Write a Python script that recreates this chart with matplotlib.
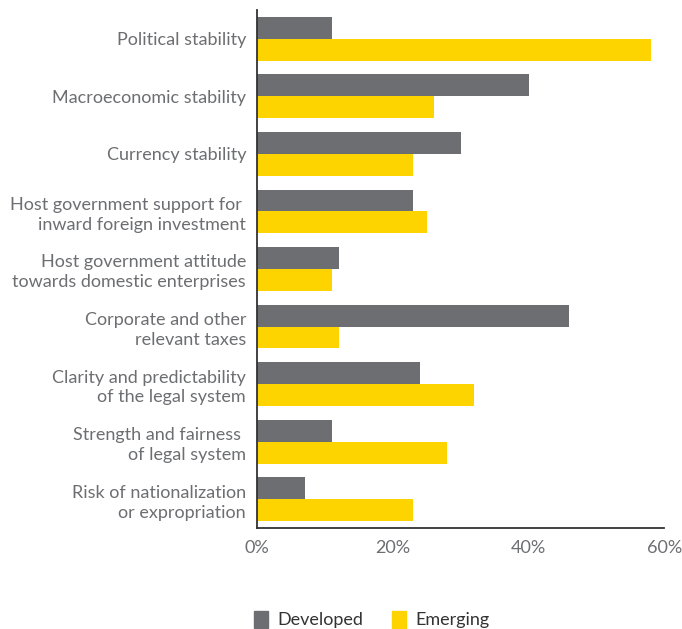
import numpy as np
import matplotlib
matplotlib.use("Agg")
import matplotlib.pyplot as plt
from matplotlib.ticker import FuncFormatter
from matplotlib.patches import Patch

categories = [
    "Political stability",
    "Macroeconomic stability",
    "Currency stability",
    "Host government support for \ninward foreign investment",
    "Host government attitude\ntowards domestic enterprises",
    "Corporate and other\nrelevant taxes",
    "Clarity and predictability\nof the legal system",
    "Strength and fairness \nof legal system",
    "Risk of nationalization\nor expropriation",
]
developed = [11, 40, 30, 23, 12, 46, 24, 11, 7]
emerging = [58, 26, 23, 25, 11, 12, 32, 28, 23]
xticks = [0, 20, 40, 60]

GRAY = "#6d6e71"
YELLOW = "#fdd300"
TEXT = "#6d6e71"

plt.rcParams['font.family'] = ['Lato', 'DejaVu Sans']

fig = plt.figure(figsize=(6.82, 6.29), dpi=100)
ax = fig.add_axes([0.377, 0.1606, 0.597, 0.8235])

y = np.arange(len(categories))
h = 0.38
ax.barh(y - h/2, developed, height=h, color=GRAY, label="Developed")
ax.barh(y + h/2, emerging, height=h, color=YELLOW, label="Emerging")

ax.set_ylim(len(categories) - 0.5, -0.5)
ax.set_xlim(0, 60)
ax.set_yticks(y)
ax.set_yticklabels(categories, fontsize=13, color=TEXT, linespacing=1.3)
ax.set_xticks(xticks)
ax.xaxis.set_major_formatter(FuncFormatter(lambda v, p: "{:d}%".format(int(v))))
ax.tick_params(axis='x', length=0, labelsize=13, labelcolor=TEXT, pad=9)
ax.tick_params(axis='y', length=0, pad=8)

for s in ["top", "right"]:
    ax.spines[s].set_visible(False)
for s in ["left", "bottom"]:
    ax.spines[s].set_color("#333333")
    ax.spines[s].set_linewidth(1.3)

handles = [Patch(color=GRAY, label="Developed"), Patch(color=YELLOW, label="Emerging")]
fig.legend(handles=handles, loc="lower center", bbox_to_anchor=(0.545, -0.025), ncol=2,
           frameon=False, fontsize=13, labelcolor="#333333", handlelength=0.8,
           handleheight=1.1, handletextpad=0.5, columnspacing=1.6)

fig.savefig("out.png", dpi=100, facecolor="white")
